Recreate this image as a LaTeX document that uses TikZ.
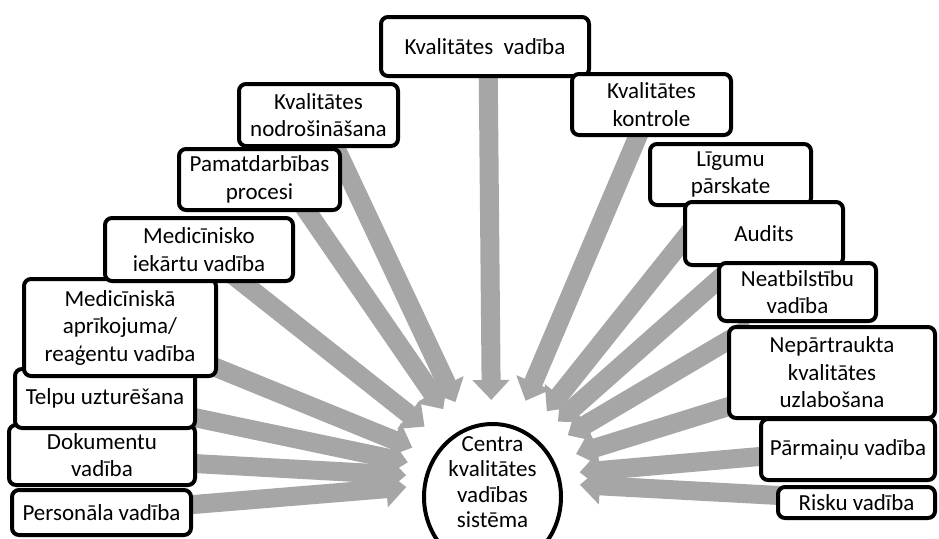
\documentclass[tikz,border=0pt]{standalone}
\usepackage{fontspec}
\setmainfont{Carlito}
\usetikzlibrary{arrows.meta,calc,shapes.geometric}
\definecolor{arrgray}{RGB}{166,166,166}
\tikzset{
  box/.style={draw, line width=4pt, rounded corners=7pt, fill=white, align=center,
    inner sep=0pt, font=\fontsize{23pt}{27.5pt}\selectfont},
  feed/.style={draw=arrgray, line width=19pt, -{Triangle[width=36pt,length=20pt]}},
  hubring/.style={draw, line width=4pt, ellipse, inner sep=0pt, fill=white},
  hubtext/.style={align=center, inner sep=0pt, font=\fontsize{23pt}{25.5pt}\selectfont}
}
\begin{document}
\begin{tikzpicture}[x=1pt,y=-1pt]
\useasboundingbox (0,0) rectangle (939,538);
\fill[white] (0,0) rectangle (939,538);
% hub
\coordinate (hub) at (492,480);
% arrow start points (hidden behind the boxes)
\coordinate (skv) at (488,50);
\coordinate (skn) at (324,123);
\coordinate (spam) at (291,188);
\coordinate (smi) at (219,264);
\coordinate (sma) at (190,357);
\coordinate (stel) at (168,412);
\coordinate (sdok) at (167,462);
\coordinate (sper) at (163,507);
\coordinate (skk) at (649,110);
\coordinate (slig) at (708,209);
\coordinate (saud) at (737,263);
\coordinate (sneat) at (751,327);
\coordinate (snep) at (756,398);
\coordinate (spar) at (788,454);
\coordinate (sris) at (807,497);
% arrows
\foreach \s/\d in {skv/80,skn/86,spam/86,smi/86,sma/86,stel/86,sdok/86,sper/86,
                   skk/86,slig/88,saud/88,sneat/88,snep/88,spar/88,sris/88}{
  \draw[feed] (\s) -- ($(hub)!\d pt!(\s)$);
}
% centre
\node[hubring, minimum width=137pt, minimum height=146pt] (cen) at (492.5,497) {};
\node[hubtext] (centxt) at (492.5,482) {Centra\\kvalitātes\\vadības\\sistēma};
% left boxes (bottom to top)
\node[box, minimum width=179pt, minimum height=45pt] (per) at (101.5,512.5) {Personāla vadība};
\node[box, minimum width=186pt, minimum height=60pt] (dok) at (102,455) {Dokumentu\\vadība};
\node[box, minimum width=180pt, minimum height=59pt] (tel) at (105,398.5) {Telpu uzturēšana};
\node[box, minimum width=192pt, minimum height=97pt] (ma) at (120,327.5) {Medicīniskā\\aprīkojuma/\\reaģentu vadība};
\node[box, minimum width=188pt, minimum height=63pt] (mi) at (199,249.5) {Medicīnisko\\iekārtu vadība};
\node[box, minimum width=161pt, minimum height=61pt] (pam) at (259.5,179.5) {Pamatdarbības\\procesi};
\node[box, minimum width=159pt, minimum height=62pt] (kn) at (318.5,115) {Kvalitātes\\nodrošināšana};
% top
\node[box, minimum width=208pt, minimum height=59pt] (kv) at (485,46.5) {Kvalitātes \ vadība};
% right boxes (top to bottom)
\node[box, minimum width=159pt, minimum height=61pt] (kk) at (651.5,104.5) {Kvalitātes\\kontrole};
\node[box, minimum width=161pt, minimum height=61pt] (lig) at (730.5,174.5) {Līgumu\\pārskate};
\node[box, minimum width=158pt, minimum height=63pt] (aud) at (764,233.5) {Audits};
\node[box, minimum width=157pt, minimum height=58pt] (neat) at (797.5,292) {Neatbilstību\\vadība};
\node[box, minimum width=206pt, minimum height=91pt] (nep) at (832,372.5) {Nepārtraukta\\kvalitātes\\uzlabošana};
\node[box, minimum width=174pt, minimum height=61pt] (par) at (848,449.5) {Pārmaiņu vadība};
\node[box, minimum width=157pt, minimum height=31pt] (ris) at (856.5,502.5) {Risku vadība};
\end{tikzpicture}
\end{document}
